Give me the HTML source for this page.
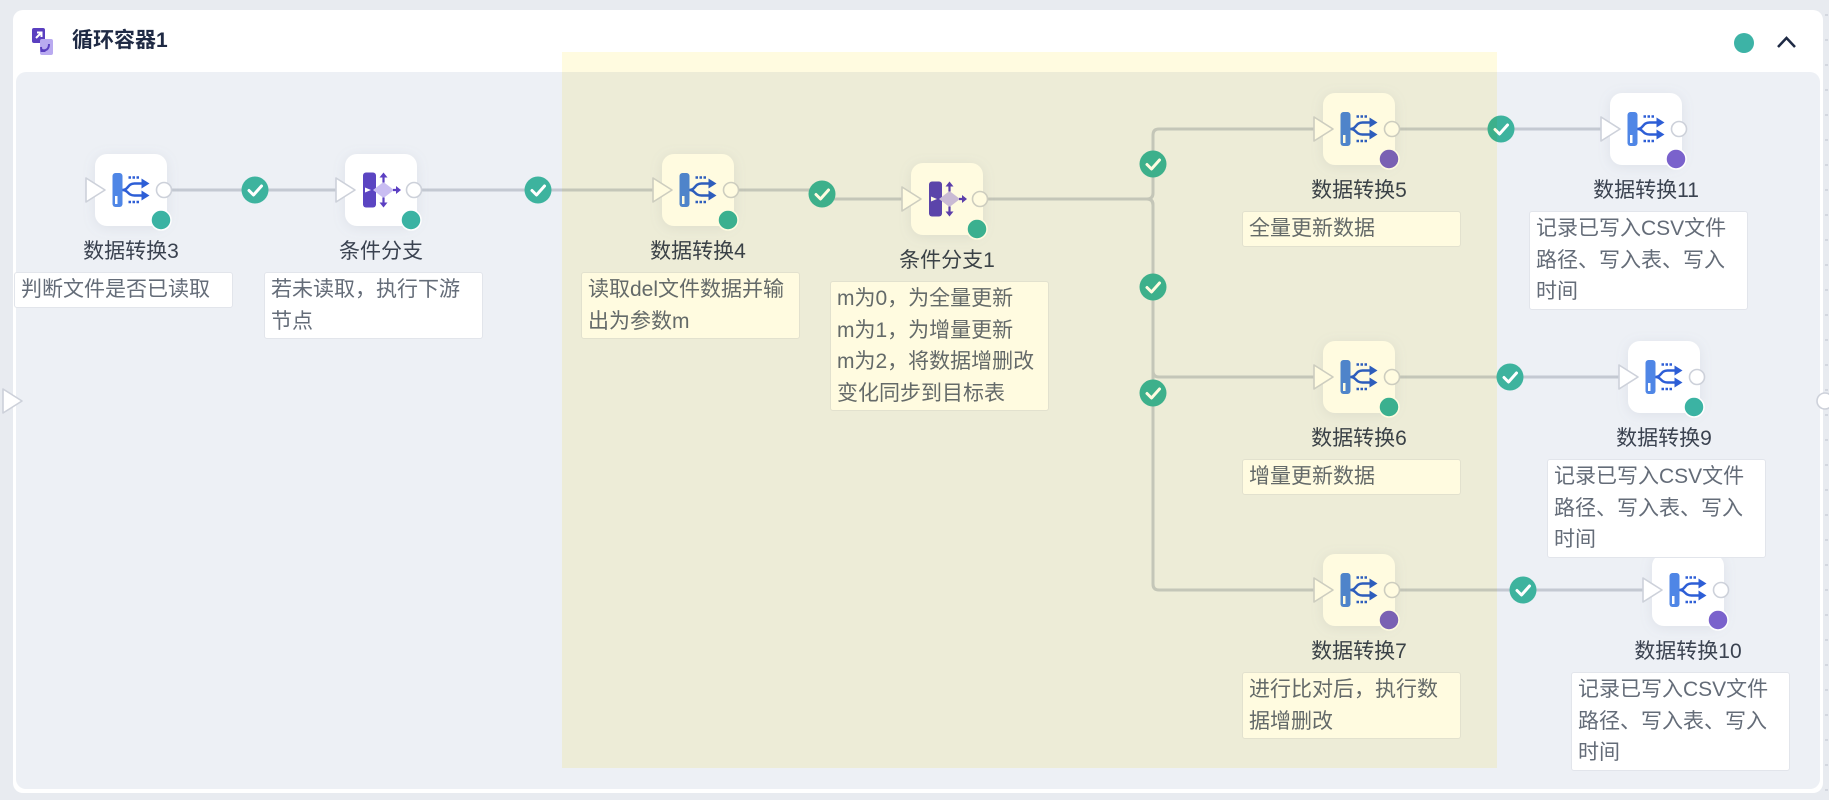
<!DOCTYPE html>
<html><head><meta charset="utf-8"><style>
html,body{margin:0;padding:0}
body{width:1829px;height:800px;overflow:hidden;background:#e8ebf0;position:relative;font-family:"Liberation Sans","Noto Sans CJK SC",sans-serif}
.card{position:absolute;left:13px;top:10px;width:1810px;height:783px;background:#fff;border-radius:10px}
.canvas{position:absolute;left:16px;top:72px;width:1804px;height:717px;background:#edf0f5;border-radius:10px}
.title{position:absolute;left:72px;top:27px;font-size:21px;line-height:28px;font-weight:bold;color:#1f2a44;white-space:nowrap}
svg.main{position:absolute;left:0;top:0}
.lbl{position:absolute;width:220px;text-align:center;font-size:21px;line-height:30px;color:#3a4250;white-space:nowrap}
.note{position:absolute;width:219px;box-sizing:border-box;background:#fff;border:1px solid #e2e5eb;border-radius:3px;padding:1px 6px;font-size:21px;line-height:31.5px;color:#646c78;white-space:nowrap}
.ov{position:absolute;left:562px;top:52px;width:935px;height:716px;background:#fffbe0;mix-blend-mode:multiply;pointer-events:none}
.dash{position:absolute;left:1825px;top:0;width:3px;height:800px;background:repeating-linear-gradient(to bottom,transparent 0,transparent 14px,#d3d7df 14px,#d3d7df 16px,transparent 16px,transparent 25px)}
</style></head><body>
<div class="dash"></div>
<div class="card"></div>
<div class="canvas"></div>
<div class="title">循环容器1</div>

<svg class="main" width="1829" height="800" viewBox="0 0 1829 800">
<defs>
<filter id="sh" x="-40%" y="-40%" width="180%" height="180%"><feDropShadow dx="0" dy="2" stdDeviation="6" flood-color="#8a93a6" flood-opacity="0.16"/></filter>
</defs>
<!-- header icon -->
<g transform="translate(32,28)">
<rect x="0" y="0" width="13" height="15" rx="2" fill="#5a3fc0"/>
<rect x="8" y="11" width="13" height="16" rx="2" fill="#b9aaf0"/>
<path d="M4,10 L9,5 M5,4.5 H9.5 V9" stroke="#fff" stroke-width="2" fill="none"/>
<path d="M17,16 C17,22 13,23 10,22 M9,19 L9.5,23 L13.5,23" stroke="#5a3fc0" stroke-width="2" fill="none"/>
</g>
<!-- header right -->
<circle cx="1744" cy="43" r="10" fill="#3db3a6"/>
<polyline points="1778,47 1786.5,38 1795,47" fill="none" stroke="#1e2a44" stroke-width="2.5"/>

<!-- connectors -->
<g fill="none" stroke="#c4c9d2" stroke-width="3">
<path d="M167,190 H345"/>
<path d="M417,190 H662"/>
<path d="M734,190 H822 V199 H911"/>
<path d="M983,199 H1147 Q1153,199 1153,193 V135 Q1153,129 1159,129 H1323"/>
<path d="M983,199 H1147 Q1153,199 1153,205 V371 Q1153,377 1159,377 H1323"/>
<path d="M983,199 H1147 Q1153,199 1153,205 V584 Q1153,590 1159,590 H1323"/>
<path d="M1395,129 H1610"/>
<path d="M1395,377 H1628"/>
<path d="M1395,590 H1652"/>
</g>

<!-- checks -->
<g>
<g transform="translate(255,190)"><circle r="13.5" fill="#3db39e"/><polyline points="-6,0.5 -1.5,5 6.5,-4" fill="none" stroke="#fff" stroke-width="3" stroke-linecap="round" stroke-linejoin="round"/></g>
<g transform="translate(538,190)"><circle r="13.5" fill="#3db39e"/><polyline points="-6,0.5 -1.5,5 6.5,-4" fill="none" stroke="#fff" stroke-width="3" stroke-linecap="round" stroke-linejoin="round"/></g>
<g transform="translate(822,194)"><circle r="13.5" fill="#3db39e"/><polyline points="-6,0.5 -1.5,5 6.5,-4" fill="none" stroke="#fff" stroke-width="3" stroke-linecap="round" stroke-linejoin="round"/></g>
<g transform="translate(1153,164)"><circle r="13.5" fill="#3db39e"/><polyline points="-6,0.5 -1.5,5 6.5,-4" fill="none" stroke="#fff" stroke-width="3" stroke-linecap="round" stroke-linejoin="round"/></g>
<g transform="translate(1153,287)"><circle r="13.5" fill="#3db39e"/><polyline points="-6,0.5 -1.5,5 6.5,-4" fill="none" stroke="#fff" stroke-width="3" stroke-linecap="round" stroke-linejoin="round"/></g>
<g transform="translate(1153,393)"><circle r="13.5" fill="#3db39e"/><polyline points="-6,0.5 -1.5,5 6.5,-4" fill="none" stroke="#fff" stroke-width="3" stroke-linecap="round" stroke-linejoin="round"/></g>
<g transform="translate(1501,129)"><circle r="13.5" fill="#3db39e"/><polyline points="-6,0.5 -1.5,5 6.5,-4" fill="none" stroke="#fff" stroke-width="3" stroke-linecap="round" stroke-linejoin="round"/></g>
<g transform="translate(1510,377)"><circle r="13.5" fill="#3db39e"/><polyline points="-6,0.5 -1.5,5 6.5,-4" fill="none" stroke="#fff" stroke-width="3" stroke-linecap="round" stroke-linejoin="round"/></g>
<g transform="translate(1523,590)"><circle r="13.5" fill="#3db39e"/><polyline points="-6,0.5 -1.5,5 6.5,-4" fill="none" stroke="#fff" stroke-width="3" stroke-linecap="round" stroke-linejoin="round"/></g>
</g>

<!-- node boxes -->
<g fill="#fff" filter="url(#sh)">
<rect x="95" y="154" width="72" height="72" rx="12"/>
<rect x="345" y="154" width="72" height="72" rx="12"/>
<rect x="662" y="154" width="72" height="72" rx="12"/>
<rect x="911" y="163" width="72" height="72" rx="12"/>
<rect x="1323" y="93" width="72" height="72" rx="12"/>
<rect x="1610" y="93" width="72" height="72" rx="12"/>
<rect x="1323" y="341" width="72" height="72" rx="12"/>
<rect x="1628" y="341" width="72" height="72" rx="12"/>
<rect x="1323" y="554" width="72" height="72" rx="12"/>
<rect x="1652" y="554" width="72" height="72" rx="12"/>
</g>

<!-- data transform icons -->
<g transform="translate(112.5,173)">
<rect x="0" y="0" width="10" height="34" rx="3" fill="#4f86e6"/><rect x="2.5" y="23" width="2.5" height="8" fill="#fff"/>
<path d="M10,17 C16,17 15,10.5 22,10.5 H30 M10,17 C16,17 15,22.5 22,22.5 H30" fill="none" stroke="#2d5ed6" stroke-width="2.5"/>
<path d="M16,4.5 H28 M16,29 H28" stroke="#2d5ed6" stroke-width="2.5" stroke-dasharray="2.5,1.5"/>
<polygon points="29,5.5 37,10.5 29,15.5" fill="#2d5ed6"/><polygon points="29,17.5 37,22.5 29,27.5" fill="#2d5ed6"/>
</g>
<g transform="translate(679.5,173)">
<rect x="0" y="0" width="10" height="34" rx="3" fill="#4f86e6"/><rect x="2.5" y="23" width="2.5" height="8" fill="#fff"/>
<path d="M10,17 C16,17 15,10.5 22,10.5 H30 M10,17 C16,17 15,22.5 22,22.5 H30" fill="none" stroke="#2d5ed6" stroke-width="2.5"/>
<path d="M16,4.5 H28 M16,29 H28" stroke="#2d5ed6" stroke-width="2.5" stroke-dasharray="2.5,1.5"/>
<polygon points="29,5.5 37,10.5 29,15.5" fill="#2d5ed6"/><polygon points="29,17.5 37,22.5 29,27.5" fill="#2d5ed6"/>
</g>
<g transform="translate(1340.5,112)">
<rect x="0" y="0" width="10" height="34" rx="3" fill="#4f86e6"/><rect x="2.5" y="23" width="2.5" height="8" fill="#fff"/>
<path d="M10,17 C16,17 15,10.5 22,10.5 H30 M10,17 C16,17 15,22.5 22,22.5 H30" fill="none" stroke="#2d5ed6" stroke-width="2.5"/>
<path d="M16,4.5 H28 M16,29 H28" stroke="#2d5ed6" stroke-width="2.5" stroke-dasharray="2.5,1.5"/>
<polygon points="29,5.5 37,10.5 29,15.5" fill="#2d5ed6"/><polygon points="29,17.5 37,22.5 29,27.5" fill="#2d5ed6"/>
</g>
<g transform="translate(1627.5,112)">
<rect x="0" y="0" width="10" height="34" rx="3" fill="#4f86e6"/><rect x="2.5" y="23" width="2.5" height="8" fill="#fff"/>
<path d="M10,17 C16,17 15,10.5 22,10.5 H30 M10,17 C16,17 15,22.5 22,22.5 H30" fill="none" stroke="#2d5ed6" stroke-width="2.5"/>
<path d="M16,4.5 H28 M16,29 H28" stroke="#2d5ed6" stroke-width="2.5" stroke-dasharray="2.5,1.5"/>
<polygon points="29,5.5 37,10.5 29,15.5" fill="#2d5ed6"/><polygon points="29,17.5 37,22.5 29,27.5" fill="#2d5ed6"/>
</g>
<g transform="translate(1340.5,360)">
<rect x="0" y="0" width="10" height="34" rx="3" fill="#4f86e6"/><rect x="2.5" y="23" width="2.5" height="8" fill="#fff"/>
<path d="M10,17 C16,17 15,10.5 22,10.5 H30 M10,17 C16,17 15,22.5 22,22.5 H30" fill="none" stroke="#2d5ed6" stroke-width="2.5"/>
<path d="M16,4.5 H28 M16,29 H28" stroke="#2d5ed6" stroke-width="2.5" stroke-dasharray="2.5,1.5"/>
<polygon points="29,5.5 37,10.5 29,15.5" fill="#2d5ed6"/><polygon points="29,17.5 37,22.5 29,27.5" fill="#2d5ed6"/>
</g>
<g transform="translate(1645.5,360)">
<rect x="0" y="0" width="10" height="34" rx="3" fill="#4f86e6"/><rect x="2.5" y="23" width="2.5" height="8" fill="#fff"/>
<path d="M10,17 C16,17 15,10.5 22,10.5 H30 M10,17 C16,17 15,22.5 22,22.5 H30" fill="none" stroke="#2d5ed6" stroke-width="2.5"/>
<path d="M16,4.5 H28 M16,29 H28" stroke="#2d5ed6" stroke-width="2.5" stroke-dasharray="2.5,1.5"/>
<polygon points="29,5.5 37,10.5 29,15.5" fill="#2d5ed6"/><polygon points="29,17.5 37,22.5 29,27.5" fill="#2d5ed6"/>
</g>
<g transform="translate(1340.5,573)">
<rect x="0" y="0" width="10" height="34" rx="3" fill="#4f86e6"/><rect x="2.5" y="23" width="2.5" height="8" fill="#fff"/>
<path d="M10,17 C16,17 15,10.5 22,10.5 H30 M10,17 C16,17 15,22.5 22,22.5 H30" fill="none" stroke="#2d5ed6" stroke-width="2.5"/>
<path d="M16,4.5 H28 M16,29 H28" stroke="#2d5ed6" stroke-width="2.5" stroke-dasharray="2.5,1.5"/>
<polygon points="29,5.5 37,10.5 29,15.5" fill="#2d5ed6"/><polygon points="29,17.5 37,22.5 29,27.5" fill="#2d5ed6"/>
</g>
<g transform="translate(1669.5,573)">
<rect x="0" y="0" width="10" height="34" rx="3" fill="#4f86e6"/><rect x="2.5" y="23" width="2.5" height="8" fill="#fff"/>
<path d="M10,17 C16,17 15,10.5 22,10.5 H30 M10,17 C16,17 15,22.5 22,22.5 H30" fill="none" stroke="#2d5ed6" stroke-width="2.5"/>
<path d="M16,4.5 H28 M16,29 H28" stroke="#2d5ed6" stroke-width="2.5" stroke-dasharray="2.5,1.5"/>
<polygon points="29,5.5 37,10.5 29,15.5" fill="#2d5ed6"/><polygon points="29,17.5 37,22.5 29,27.5" fill="#2d5ed6"/>
</g>

<!-- condition icons -->
<g transform="translate(363,172.5)">
<rect x="0" y="0" width="13" height="35" rx="3" fill="#5b45c2"/>
<polygon points="2,15 8,17.5 2,20" fill="#fff"/>
<polygon points="10,17.5 20.5,9.5 31,17.5 20.5,25.5" fill="#c9bdf2"/>
<path d="M20.5,10 V4 M20.5,25 V31 M30,17.5 H34" stroke="#5b3fc2" stroke-width="2.2"/>
<polygon points="16.5,5 20.5,0 24.5,5" fill="#5b3fc2"/><polygon points="16.5,30 20.5,35 24.5,30" fill="#5b3fc2"/><polygon points="33,13.5 38,17.5 33,21.5" fill="#5b3fc2"/>
</g>
<g transform="translate(929,181.5)">
<rect x="0" y="0" width="13" height="35" rx="3" fill="#5b45c2"/>
<polygon points="2,15 8,17.5 2,20" fill="#fff"/>
<polygon points="10,17.5 20.5,9.5 31,17.5 20.5,25.5" fill="#c9bdf2"/>
<path d="M20.5,10 V4 M20.5,25 V31 M30,17.5 H34" stroke="#5b3fc2" stroke-width="2.2"/>
<polygon points="16.5,5 20.5,0 24.5,5" fill="#5b3fc2"/><polygon points="16.5,30 20.5,35 24.5,30" fill="#5b3fc2"/><polygon points="33,13.5 38,17.5 33,21.5" fill="#5b3fc2"/>
</g>

<!-- input triangles -->
<g fill="#fff" stroke="#cdd1da" stroke-width="1.6" stroke-linejoin="round">
<polygon points="86,178 86,202 105,190"/>
<polygon points="336,178 336,202 355,190"/>
<polygon points="653,178 653,202 672,190"/>
<polygon points="902,187 902,211 921,199"/>
<polygon points="1314,117 1314,141 1333,129"/>
<polygon points="1601,117 1601,141 1620,129"/>
<polygon points="1314,365 1314,389 1333,377"/>
<polygon points="1619,365 1619,389 1638,377"/>
<polygon points="1314,578 1314,602 1333,590"/>
<polygon points="1643,578 1643,602 1662,590"/>
<polygon points="3,389 3,413 22,401"/>
</g>
<!-- output circles -->
<g fill="#fff" stroke="#cdd1da" stroke-width="1.6">
<circle cx="164" cy="190" r="7.5"/>
<circle cx="414" cy="190" r="7.5"/>
<circle cx="731" cy="190" r="7.5"/>
<circle cx="980" cy="199" r="7.5"/>
<circle cx="1392" cy="129" r="7.5"/>
<circle cx="1679" cy="129" r="7.5"/>
<circle cx="1392" cy="377" r="7.5"/>
<circle cx="1697" cy="377" r="7.5"/>
<circle cx="1392" cy="590" r="7.5"/>
<circle cx="1721" cy="590" r="7.5"/>
<circle cx="1825" cy="401" r="8"/>
</g>
<!-- status dots -->
<g stroke="#fff" stroke-width="1.5">
<circle cx="161" cy="220" r="10" fill="#3bb3a3"/>
<circle cx="411" cy="220" r="10" fill="#3bb3a3"/>
<circle cx="728" cy="220" r="10" fill="#3bb3a3"/>
<circle cx="977" cy="229" r="10" fill="#3bb3a3"/>
<circle cx="1389" cy="159" r="10" fill="#7a62cc"/>
<circle cx="1676" cy="159" r="10" fill="#7a62cc"/>
<circle cx="1389" cy="407" r="10" fill="#3bb3a3"/>
<circle cx="1694" cy="407" r="10" fill="#3bb3a3"/>
<circle cx="1389" cy="620" r="10" fill="#7a62cc"/>
<circle cx="1718" cy="620" r="10" fill="#7a62cc"/>
</g>
</svg>

<!-- labels -->
<div class="lbl" style="left:21px;top:237px">数据转换3</div>
<div class="lbl" style="left:271px;top:237px">条件分支</div>
<div class="lbl" style="left:588px;top:237px">数据转换4</div>
<div class="lbl" style="left:837px;top:246px">条件分支1</div>
<div class="lbl" style="left:1249px;top:176px">数据转换5</div>
<div class="lbl" style="left:1536px;top:176px">数据转换11</div>
<div class="lbl" style="left:1249px;top:424px">数据转换6</div>
<div class="lbl" style="left:1554px;top:424px">数据转换9</div>
<div class="lbl" style="left:1249px;top:637px">数据转换7</div>
<div class="lbl" style="left:1578px;top:637px">数据转换10</div>

<!-- notes -->
<div class="note" style="left:14px;top:272px">判断文件是否已读取</div>
<div class="note" style="left:264px;top:272px">若未读取，执行下游<br>节点</div>
<div class="note" style="left:581px;top:272px">读取del文件数据并输<br>出为参数m</div>
<div class="note" style="left:830px;top:281px">m为0，为全量更新<br>m为1，为增量更新<br>m为2，将数据增删改<br>变化同步到目标表</div>
<div class="note" style="left:1242px;top:211px">全量更新数据</div>
<div class="note" style="left:1529px;top:211px">记录已写入CSV文件<br>路径、写入表、写入<br>时间</div>
<div class="note" style="left:1242px;top:459px">增量更新数据</div>
<div class="note" style="left:1547px;top:459px">记录已写入CSV文件<br>路径、写入表、写入<br>时间</div>
<div class="note" style="left:1242px;top:672px">进行比对后，执行数<br>据增删改</div>
<div class="note" style="left:1571px;top:672px">记录已写入CSV文件<br>路径、写入表、写入<br>时间</div>

<div class="ov"></div>
</body></html>
